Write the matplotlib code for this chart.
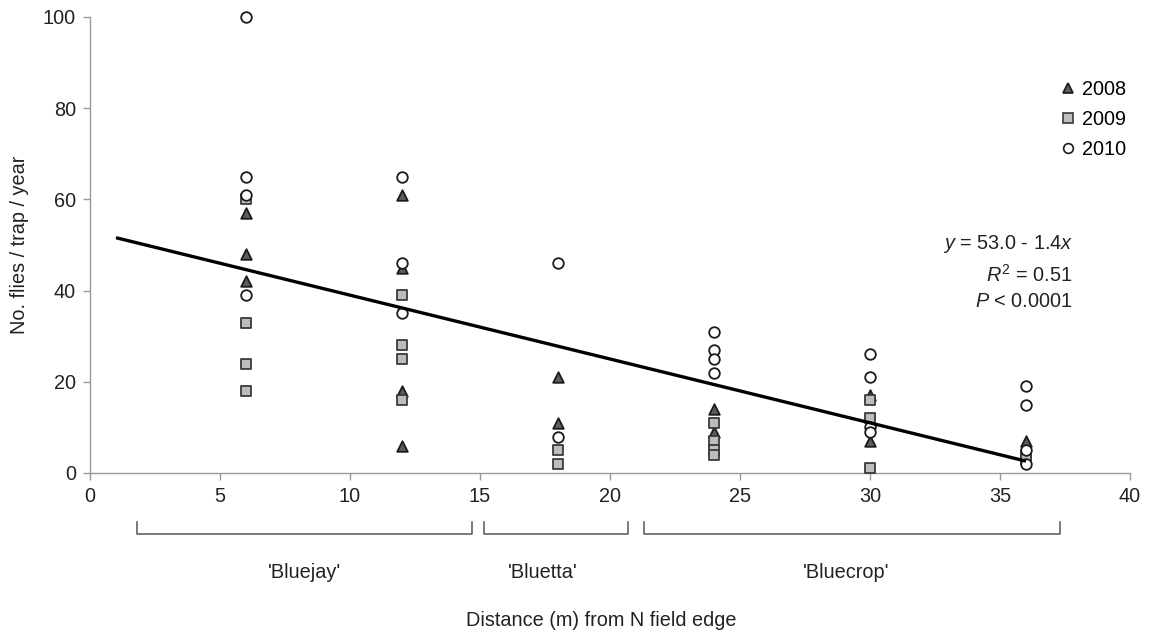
import matplotlib
matplotlib.use("Agg")
import matplotlib.pyplot as plt
from matplotlib.lines import Line2D

plt.rcParams['font.family'] = ['Liberation Sans', 'DejaVu Sans']
plt.rcParams['mathtext.fontset'] = 'custom'
plt.rcParams['mathtext.rm'] = 'Liberation Sans'
plt.rcParams['mathtext.it'] = 'Liberation Sans:italic'

# Trap distances (m) from the north field edge
distances = [6, 12, 18, 24, 30, 36]

# Flies per trap per year, grouped by distance
flies_2008 = [[57, 48, 42], [61, 45, 18, 6], [21, 11], [14, 9], [17, 7], [7]]
flies_2009 = [[60, 33, 24, 18], [39, 28, 25, 16], [5, 2], [11, 7, 5, 4], [16, 12, 1], [4, 3]]
flies_2010 = [[100, 65, 61, 39], [65, 46, 35], [46, 8], [31, 27, 25, 22], [26, 21, 10, 9], [19, 15, 5, 2]]

# Linear fit y = a + b*x
fit_intercept = 53.0
fit_slope = -1.4
fit_x = [1, 36]

# Cultivar blocks along the distance axis
cultivars = ["'Bluejay'", "'Bluetta'", "'Bluecrop'"]
cultivar_spans = [(1.8, 14.7), (15.15, 20.7), (21.3, 37.3)]
cultivar_label_x = [8.25, 17.4, 29.1]

x_ticks = [0, 5, 10, 15, 20, 25, 30, 35, 40]
y_ticks = [0, 20, 40, 60, 80, 100]

FS = 14.3
TEXT = '#222222'


def flatten(groups):
    xs, ys = [], []
    for d, vals in zip(distances, groups):
        for v in vals:
            xs.append(d)
            ys.append(v)
    return xs, ys


fig = plt.figure(figsize=(11.51, 6.36), dpi=100)
ax = fig.add_axes([90 / 1151, 1 - 473 / 636, 1040 / 1151, 456 / 636])

styles = {
    '2008': dict(marker='^', facecolor='#5c5c5c', edgecolor='#1a1a1a'),
    '2009': dict(marker='s', facecolor='#bdbdbd', edgecolor='#3a3a3a'),
    '2010': dict(marker='o', facecolor='white', edgecolor='#1a1a1a'),
}

for year, groups in (('2008', flies_2008), ('2009', flies_2009), ('2010', flies_2010)):
    xs, ys = flatten(groups)
    st = styles[year]
    ax.scatter(xs, ys, marker=st['marker'], s=58, facecolor=st['facecolor'],
               edgecolor=st['edgecolor'], linewidths=1.3, zorder=3, clip_on=False)

fit_y = [fit_intercept + fit_slope * x for x in fit_x]
ax.plot(fit_x, fit_y, color='black', lw=2.4, zorder=4, solid_capstyle='butt')

ax.set_xlim(0, 40)
ax.set_ylim(0, 100)
ax.set_xticks(x_ticks)
ax.set_yticks(y_ticks)
ax.tick_params(axis='both', labelsize=FS, colors='#999999', labelcolor=TEXT,
               length=5, width=1, direction='out', pad=5)
for side in ('top', 'right'):
    ax.spines[side].set_visible(False)
for side in ('left', 'bottom'):
    ax.spines[side].set_color('#999999')
    ax.spines[side].set_linewidth(1)

ax.set_ylabel('No. flies / trap / year', fontsize=FS, color=TEXT, labelpad=10)
fig.text(601 / 1151, 1 - 621 / 636, 'Distance (m) from N field edge', fontsize=FS,
         color=TEXT, ha='center', va='center')

# Cultivar brackets beneath the axis
tr = ax.get_xaxis_transform()
y_top, y_bot = -0.1075, -0.134
for (x0, x1), name, lx in zip(cultivar_spans, cultivars, cultivar_label_x):
    ax.plot([x0, x0, x1, x1], [y_top, y_bot, y_bot, y_top], transform=tr,
            color='#555555', lw=1.1, clip_on=False)
    ax.text(lx, -0.219, name, transform=tr, ha='center', va='center',
            fontsize=FS, color=TEXT)

# Legend
handles = [Line2D([], [], ls='none', marker=styles[y]['marker'], markersize=7,
                  markerfacecolor=styles[y]['facecolor'],
                  markeredgecolor=styles[y]['edgecolor'], markeredgewidth=1.2)
           for y in ('2008', '2009', '2010')]
ax.legend(handles, ['2008', '2009', '2010'], loc='upper left',
          bbox_to_anchor=(0.933, 0.862), frameon=False, fontsize=FS,
          handlelength=0.8, handletextpad=0.3, labelspacing=0.55, borderpad=0,
          borderaxespad=0)

# Fit statistics
stats = ['$y$ = 53.0 - 1.4$x$', '$R^{\\mathrm{2}}$ = 0.51', '$P$ < 0.0001']
for txt, yy in zip(stats, [0.502, 0.434, 0.377]):
    ax.text(0.945, yy, txt, transform=ax.transAxes, ha='right', va='center',
            fontsize=FS, color=TEXT)

fig.savefig('out.png', dpi=100)
